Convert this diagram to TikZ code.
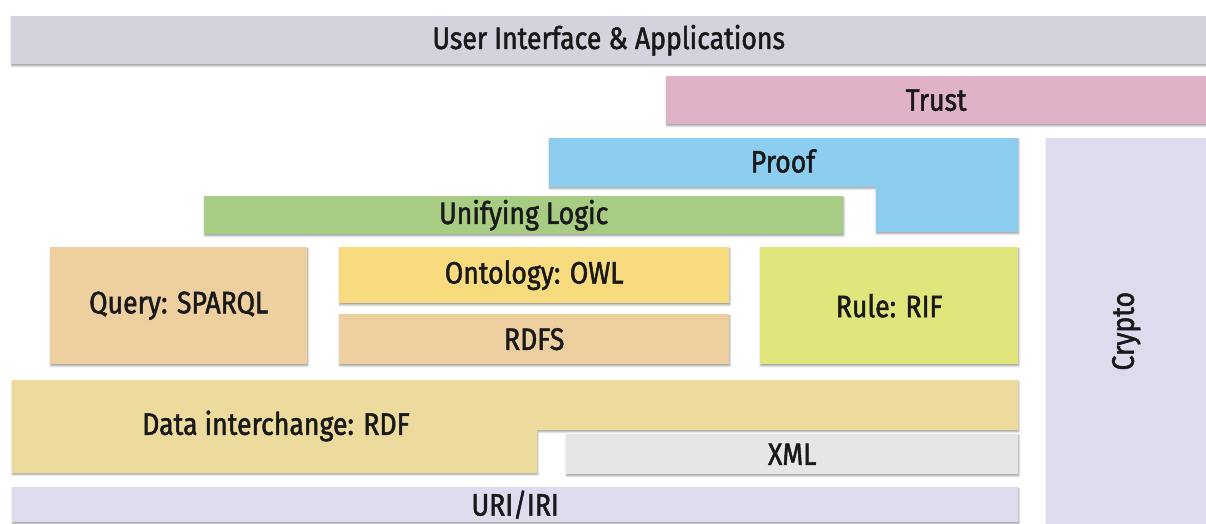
\documentclass[tikz,border=0pt]{standalone}
\usepackage{fontspec}
\setmainfont{Fira Sans}[FakeStretch=0.86, FakeBold=1.6]
\usetikzlibrary{shadows.blur}

\definecolor{uicol}{HTML}{D3D3DD}
\definecolor{trustcol}{HTML}{DFB2C8}
\definecolor{proofcol}{HTML}{8DCEF0}
\definecolor{logiccol}{HTML}{A8CC84}
\definecolor{querycol}{HTML}{EDCFA0}
\definecolor{owlcol}{HTML}{F9DB7F}
\definecolor{rdfscol}{HTML}{EDCFA0}
\definecolor{rulecol}{HTML}{E0E57C}
\definecolor{rdfcol}{HTML}{EDDB9E}
\definecolor{xmlcol}{HTML}{E6E6E6}
\definecolor{uricol}{HTML}{DCDCEE}

\tikzset{
  soft/.style={blur shadow={shadow xshift=0.6pt, shadow yshift=-1.6pt,
      shadow blur steps=6, shadow blur radius=2pt, shadow opacity=40}},
  layer/.style={soft, fill=#1, draw=none, inner sep=0pt, anchor=north west,
      font=\fontsize{31}{33}\selectfont, text=black!90},
  lbl/.style={font=\fontsize{31}{33}\selectfont, text=black!90, inner sep=0pt}
}

\begin{document}
\begin{tikzpicture}[x=1pt,y=-1pt]
  \useasboundingbox (0,0) rectangle (1206,524);

  % top layers
  \node[layer=uicol, minimum width=1195pt, minimum height=48pt] (ui) at (11,16)
       {User Interface \& Applications};
  \node[layer=trustcol, minimum width=540pt, minimum height=48pt] (trust) at (666,76)
       {Trust};

  % proof layer (L-shaped)
  \path[soft, fill=proofcol] (549,138) -- (1018,138) -- (1018,232) -- (876,232)
       -- (876,187) -- (549,187) -- cycle;
  \node[lbl] (proof) at (783,161) {Proof};

  % crypto column
  \node[layer=uricol, minimum width=160pt, minimum height=386pt] (crypto) at (1046,138) {};
  \node[lbl, rotate=90] (cryptolbl) at (crypto.center) {Crypto};

  \node[layer=logiccol, minimum width=639pt, minimum height=38pt] (logic) at (204,196)
       {Unifying Logic};

  % middle row
  \node[layer=querycol, minimum width=257pt, minimum height=117pt] (query) at (50,247)
       {Query: SPARQL};
  \node[layer=owlcol, minimum width=390pt, minimum height=56pt] (owl) at (339,247)
       {Ontology: OWL};
  \node[layer=rdfscol, minimum width=390pt, minimum height=50pt] (rdfs) at (339,314)
       {RDFS};
  \node[layer=rulecol, minimum width=258pt, minimum height=117pt] (rule) at (760,247)
       {Rule: RIF};

  % data interchange (L-shaped)
  \path[soft, fill=rdfcol] (12,380) -- (1018,380) -- (1018,430) -- (537,430)
       -- (537,473) -- (12,473) -- cycle;
  \node[lbl] (rdf) at (276,426) {Data interchange: RDF};

  \node[layer=xmlcol, minimum width=452pt, minimum height=40pt] (xml) at (566,434)
       {XML};
  \node[layer=uricol, minimum width=1006pt, minimum height=35pt] (uri) at (12,487)
       {URI/IRI};
\end{tikzpicture}
\end{document}
